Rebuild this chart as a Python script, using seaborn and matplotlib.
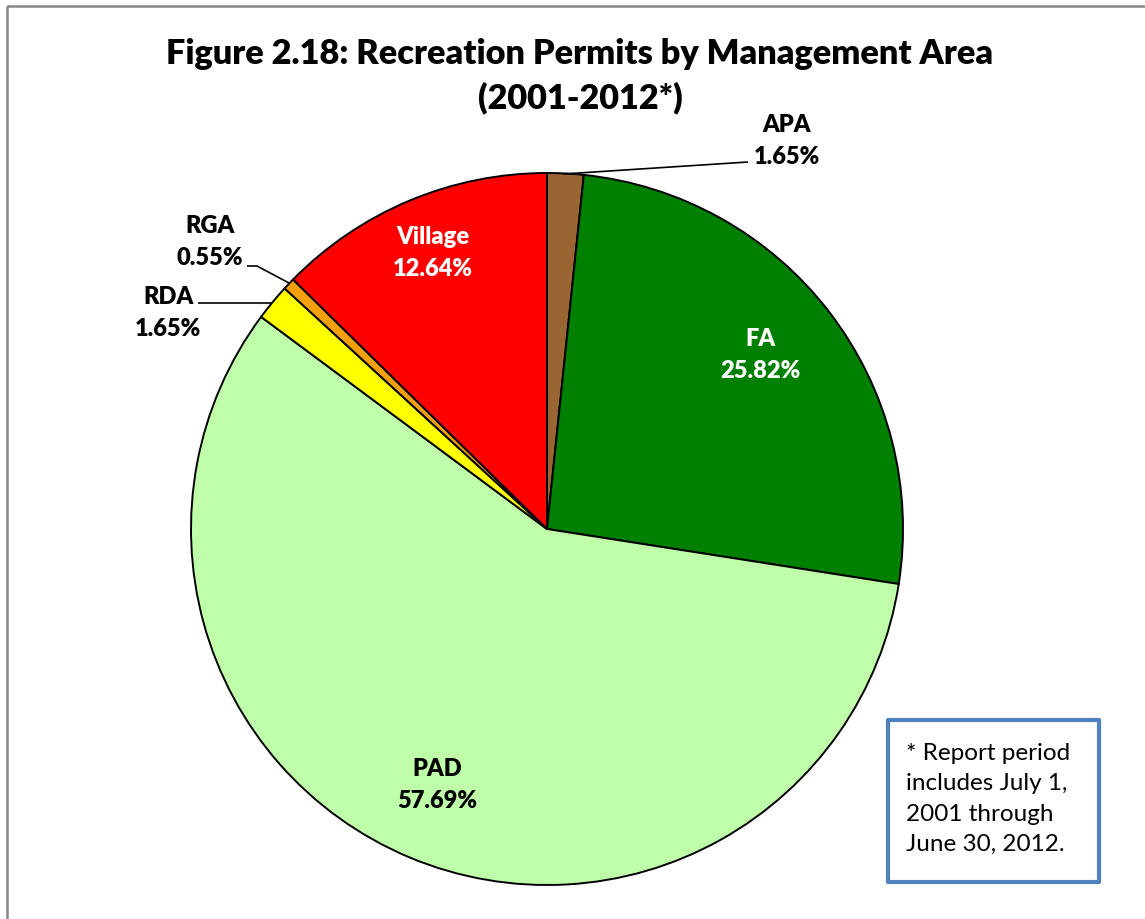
import matplotlib
matplotlib.use("Agg")
import matplotlib.pyplot as plt
from matplotlib.patches import Rectangle
import seaborn as sns

# Recreation permits by management area, share of total (%)
areas = ["APA", "FA", "PAD", "RDA", "RGA", "Village"]
shares = [1.65, 25.82, 57.69, 1.65, 0.55, 12.64]
colors = ["#996633", "#008000", "#C0FFAA", "#FFFF00", "#F5A00A", "#FF0000"]
label_colors = ["black", "white", "black", "black", "black", "white"]

sns.set_theme(style="white")
plt.rcParams["font.family"] = ["Lato", "DejaVu Sans"]

W, H = 1145, 920
fig = plt.figure(figsize=(W / 100, H / 100), dpi=100)
ax = fig.add_axes([0, 0, 1, 1])


def Y(y):
    # pixel row (from top) -> data y (from bottom)
    return H - y


cx, cy, r = 547, 530, 356
wedges, _ = ax.pie(
    shares,
    colors=colors,
    startangle=90,
    counterclock=False,
    center=(cx, Y(cy)),
    radius=r,
    frame=True,
    wedgeprops=dict(edgecolor="black", linewidth=1.4),
)
ax.set_xlim(0, W)
ax.set_ylim(0, H)
ax.set_aspect("equal")
ax.axis("off")

# Chart-area frame
ax.add_patch(Rectangle((7, Y(7)), W + 20, -(H + 20), fill=False,
                       edgecolor="#878787", linewidth=1.8, clip_on=True))

# Title
ax.text(580, Y(76), "Figure 2.18: Recreation Permits by Management Area\n(2001-2012*)",
        ha="center", va="center", fontsize=24.7, fontweight="heavy",
        linespacing=1.45, color="black")

# Data labels: text anchor positions (pixel coordinates)
label_pos = {
    "APA": (787, 141),
    "FA": (760, 355),
    "PAD": (437, 785),
    "RDA": (168, 313),
    "RGA": (210, 242),
    "Village": (433, 253),
}
for name, val, col in zip(areas, shares, label_colors):
    x, y = label_pos[name]
    ax.text(x, Y(y), f"{name}\n{val:.2f}%", ha="center", va="center",
            fontsize=17, fontweight="heavy", color=col, linespacing=1.55)

# Leader lines for the small slices
leaders = {
    "APA": [(563, 175), (748, 163)],
    "RGA": [(247, 267), (257, 267), (289, 284)],
    "RDA": [(198, 304), (272, 304)],
}
for pts in leaders.values():
    xs = [p[0] for p in pts]
    ys = [Y(p[1]) for p in pts]
    ax.plot(xs, ys, color="black", linewidth=1.2, solid_capstyle="butt")

# Note box
ax.add_patch(Rectangle((888, Y(883)), 211, 162, fill=True, facecolor="white",
                       edgecolor="#4F81BD", linewidth=3, joinstyle="round"))
ax.text(906, Y(799), "* Report period\nincludes July 1,\n2001 through\nJune 30, 2012.",
        ha="left", va="center", fontsize=17.5, color="black", linespacing=1.56)

fig.savefig("out.png", dpi=100)
